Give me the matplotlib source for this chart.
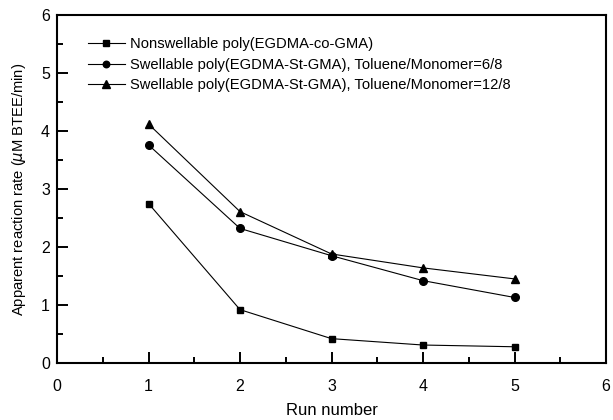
import matplotlib.pyplot as plt

plt.rcParams['font.family'] = ['Liberation Sans', 'DejaVu Sans']

runs = [1, 2, 3, 4, 5]
nonswell = [2.75, 0.92, 0.42, 0.31, 0.28]
swell_6_8 = [3.76, 2.32, 1.85, 1.42, 1.13]
swell_12_8 = [4.12, 2.61, 1.88, 1.64, 1.45]
labels = ['Nonswellable poly(EGDMA-co-GMA)',
          'Swellable poly(EGDMA-St-GMA), Toluene/Monomer=6/8',
          'Swellable poly(EGDMA-St-GMA), Toluene/Monomer=12/8']

fig = plt.figure(figsize=(6.13, 4.2), dpi=100)
ax = fig.add_axes([0.093, 0.1357, 0.8956, 0.8286])

ax.plot(runs, nonswell, 'k-s', lw=0.8, ms=5, label=labels[0])
ax.plot(runs, swell_6_8, 'k-o', lw=0.8, ms=5.5, label=labels[1])
ax.plot(runs, swell_12_8, 'k-^', lw=0.8, ms=6, label=labels[2])

ax.set_xlim(0, 6)
ax.set_ylim(0, 6)
ax.set_xticks(range(7))
ax.set_yticks(range(7))
ax.set_xticks([i + 0.5 for i in range(6)], minor=True)
ax.set_yticks([i + 0.5 for i in range(6)], minor=True)
ax.tick_params(which='both', direction='in', width=1.4, labelsize=11.5)
ax.tick_params(which='major', length=8)
ax.tick_params(which='minor', length=4)
ax.tick_params(axis='x', which='both', pad=11.5)
ax.tick_params(axis='y', which='both', pad=5)
for s in ax.spines.values():
    s.set_linewidth(1.5)

ax.set_xlabel('Run number', fontsize=12)
ax.xaxis.set_label_coords(0.5, -0.114)
ax.set_ylabel('Apparent reaction rate ($\\mu$M BTEE/min)', fontsize=10.6)
ax.yaxis.set_label_coords(-0.053, 0.5)

ax.legend(loc='upper left', frameon=False, fontsize=10.6, handlelength=2.5,
          handletextpad=0.4, labelspacing=0.44, borderpad=0, borderaxespad=0,
          markerscale=0.85, bbox_to_anchor=(0.056, 0.936))

fig.savefig('out.png', dpi=100)
